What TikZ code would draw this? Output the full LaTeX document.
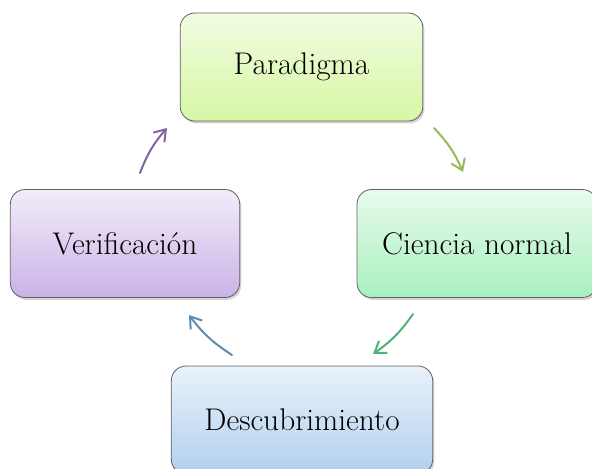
\documentclass[tikz,border=0pt]{standalone}
\usetikzlibrary{arrows.meta,shadows}

\definecolor{parTop}{HTML}{F2FCE3}
\definecolor{parBot}{HTML}{D6F7A3}
\definecolor{cieTop}{HTML}{E8FBEC}
\definecolor{cieBot}{HTML}{A8F0BE}
\definecolor{desTop}{HTML}{EAF2FB}
\definecolor{desBot}{HTML}{B0D0EF}
\definecolor{verTop}{HTML}{F2ECF9}
\definecolor{verBot}{HTML}{C9B3E7}
\definecolor{arrA}{HTML}{9BBB59}
\definecolor{arrB}{HTML}{4DB476}
\definecolor{arrC}{HTML}{5B8DB3}
\definecolor{arrD}{HTML}{8064A2}

\tikzset{
  stagebox/.style={draw=black!62, line width=0.6pt, rounded corners=11pt,
    minimum height=81pt, align=center,
    font=\fontsize{23.5}{28}\selectfont,
    drop shadow={opacity=0.35, shadow xshift=1.2pt, shadow yshift=-1.8pt}},
  cyclearrow/.style={line width=1.5pt, line cap=round,
    -{Straight Barb[length=8pt,width=11pt,line width=1.5pt]}}
}

\begin{document}
\begin{tikzpicture}[x=0.75pt,y=-0.75pt]
                \useasboundingbox (0,0) rectangle (592,468);

                \node[stagebox, minimum width=182pt, top color=parTop, bottom color=parBot] (par) at (301.5,67) {Paradigma};
                \node[stagebox, minimum width=180pt, top color=cieTop, bottom color=cieBot] (cie) at (477,243.5) {Ciencia normal};
                \node[stagebox, minimum width=196pt, top color=desTop, bottom color=desBot] (des) at (302,420) {Descubrimiento};
                \node[stagebox, minimum width=172pt, top color=verTop, bottom color=verBot] (ver) at (125,243.5) {Verificación};

                \coordinate (a1) at (434,128);  \coordinate (b1) at (463,172);
                \coordinate (a2) at (413,314);  \coordinate (b2) at (373,354);
                \coordinate (a3) at (232,355);  \coordinate (b3) at (189,315);
                \coordinate (a4) at (140,173);  \coordinate (b4) at (167,128);

                \draw[cyclearrow, arrA] (a1) to[bend left=10] (b1);
                \draw[cyclearrow, arrB] (a2) to[bend left=10] (b2);
                \draw[cyclearrow, arrC] (a3) to[bend left=10] (b3);
                \draw[cyclearrow, arrD] (a4) to[bend left=10] (b4);
            \end{tikzpicture}
\end{document}
